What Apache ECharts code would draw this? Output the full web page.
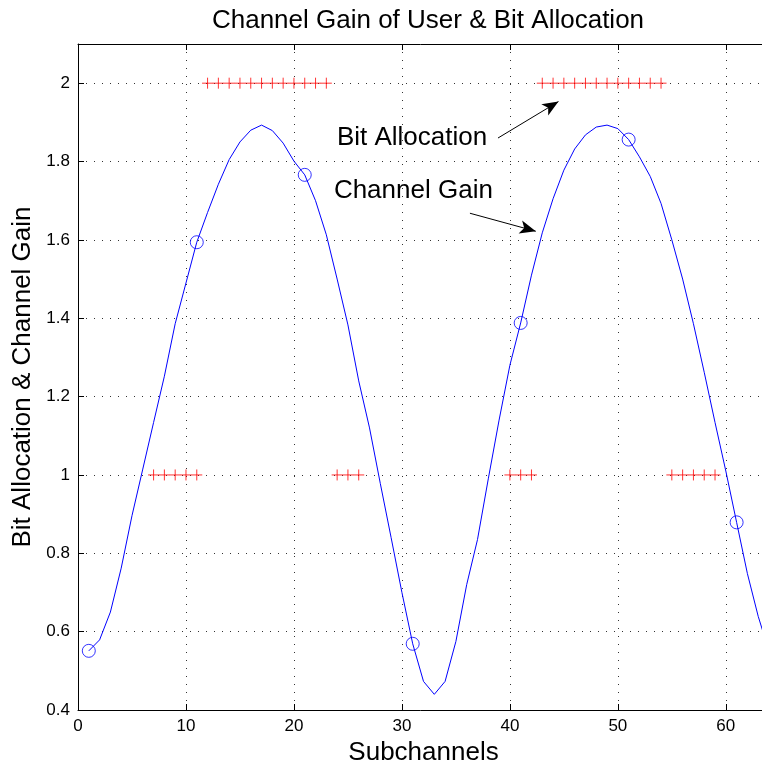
<!DOCTYPE html>
<html>
<head>
<meta charset="utf-8">
<script src="https://cdn.jsdelivr.net/npm/echarts@6/dist/echarts.min.js"></script>
<style>html,body{margin:0;padding:0;background:#fff;}#c{width:762px;height:765px;}</style>
</head>
<body>
<div id="c"></div>
<script>
// Subchannel indices
const subchannels = [1,2,3,4,5,6,7,8,9,10,11,12,13,14,15,16,17,18,19,20,21,22,23,24,25,26,27,28,29,30,31,32,
  33,34,35,36,37,38,39,40,41,42,43,44,45,46,47,48,49,50,51,52,53,54,55,56,57,58,59,60,61,62,63,64];
// Channel gain per subchannel
const channelGain = [0.551,0.579,0.650,0.762,0.896,1.015,1.134,1.252,1.386,1.490,1.594,1.670,1.742,1.805,1.850,1.880,
  1.893,1.879,1.847,1.801,1.766,1.700,1.613,1.500,1.383,1.240,1.120,0.978,0.840,0.700,0.569,0.473,
  0.440,0.473,0.575,0.720,0.835,0.990,1.140,1.280,1.388,1.510,1.618,1.705,1.778,1.832,1.868,1.888,
  1.893,1.884,1.856,1.812,1.762,1.693,1.600,1.500,1.386,1.262,1.134,1.010,0.879,0.748,0.639,0.550];
// Bit allocation per subchannel (0 = not allocated)
const bitAllocation = [0,0,0,0,0,0,1,1,1,1,1,2,2,2,2,2,2,2,2,2,2,2,2,1,1,1,0,0,0,0,0,0,
  0,0,0,0,0,0,0,1,1,1,2,2,2,2,2,2,2,2,2,2,2,2,1,1,1,1,1,0,0,0,0,0];
// Subchannels marked with circles
const markedSubchannels = [1,11,21,31,41,51,61];
// Axis ticks
const xTicks = [0,10,20,30,40,50,60];
const yTicks = [0.4,0.6,0.8,1,1.2,1.4,1.6,1.8,2];
// Annotations: text and arrow [tail, head] in data coordinates
const annotationTexts = ['Bit Allocation','Channel Gain'];
const annotationTextPos = [[23.98,1.8615],[23.7,1.726]];
const annotationArrows = [[[38.9,1.860],[44.5,1.953]], [[36.3,1.668],[42.4,1.622]]];

const FONT = '"Liberation Sans", Arial, Helvetica, sans-serif';
const gainData = subchannels.map((s,i)=>[s, channelGain[i]]);
const markData = markedSubchannels.map(s=>[s, channelGain[subchannels.indexOf(s)]]);
const bitData = subchannels.map((s,i)=>[s, bitAllocation[i]]).filter(d=>d[1]>0);

const chart = echarts.init(document.getElementById('c'), null, {renderer:'canvas'});
const gridLine = {show:true, lineStyle:{color:'#333', width:1, type:[1,7]}};
const X_MAX = 64;
chart.setOption({
  animation:false,
  backgroundColor:'#fff',
  title:{text:'Channel Gain of User & Bit Allocation', left:423, top:3, textAlign:'center',
    textStyle:{fontFamily:FONT, fontSize:26, fontWeight:'normal', color:'#000'}},
  grid:{left:78, top:44, width:691, height:666, containLabel:false, outerBoundsMode:'none'},
  xAxis:[{
    type:'value', min:0, max:X_MAX, interval:10, position:'bottom',
    name:'Subchannels', nameLocation:'middle', nameGap:27, nameTextStyle:{fontFamily:FONT, fontSize:26, color:'#000', align:'center'},
    axisLine:{show:true, onZero:false, lineStyle:{color:'#000', width:1}},
    axisTick:{show:true, inside:true, length:6, lineStyle:{color:'#000'}},
    axisLabel:{fontFamily:FONT, fontSize:17, color:'#000', margin:8, showMaxLabel:false,
      formatter:v=>xTicks.includes(v)?String(v):''},
    splitLine:gridLine
  },{
    type:'value', min:0, max:X_MAX, interval:10, position:'top',
    axisLine:{show:true, onZero:false, lineStyle:{color:'#000', width:1}},
    axisTick:{show:true, inside:true, length:6, lineStyle:{color:'#000'}},
    axisLabel:{show:false}, splitLine:{show:false}
  }],
  yAxis:[{
    type:'value', min:0.4, max:2.1, interval:0.2,
    name:'Bit Allocation & Channel Gain', nameLocation:'middle', nameGap:36, nameRotate:90,
    nameTextStyle:{fontFamily:FONT, fontSize:26, color:'#000'},
    axisLine:{show:true, onZero:false, lineStyle:{color:'#000', width:1}},
    axisTick:{show:true, inside:true, length:6, lineStyle:{color:'#000'}},
    axisLabel:{fontFamily:FONT, fontSize:17, color:'#000', margin:8, showMaxLabel:false,
      formatter:v=>{const t=yTicks.find(y=>Math.abs(y-v)<1e-6); return t===undefined?'':String(t);}},
    splitLine:gridLine
  }],
  series:[{
    type:'line', data:gainData, showSymbol:false, symbol:'none',
    lineStyle:{color:'#0000ff', width:1}, z:3,
    markLine:{
      silent:true, symbol:['none','arrow'], symbolSize:[10,16],
      lineStyle:{color:'#000', width:1, type:'solid'}, label:{show:false},
      data:annotationArrows.map(a=>[{coord:a[0]},{coord:a[1]}])
    },
    markPoint:{
      silent:true, symbol:'circle', symbolSize:0,
      label:{show:true, position:'right', distance:0, fontFamily:FONT, fontSize:26, color:'#000'},
      data:annotationTexts.map((t,i)=>({coord:annotationTextPos[i], value:t, label:{formatter:t}}))
    }
  },{
    type:'scatter', data:markData, symbol:'circle', symbolSize:13,
    itemStyle:{color:'rgba(0,0,0,0)', borderColor:'#0000ff', borderWidth:1}, z:4
  },{
    type:'scatter', data:bitData, symbol:'path://M0,5L10,5M5,0L5,10', symbolSize:11,
    itemStyle:{color:'#ff0000', borderColor:'#ff0000', borderWidth:1}, z:5
  }]
});
</script>
</body>
</html>
